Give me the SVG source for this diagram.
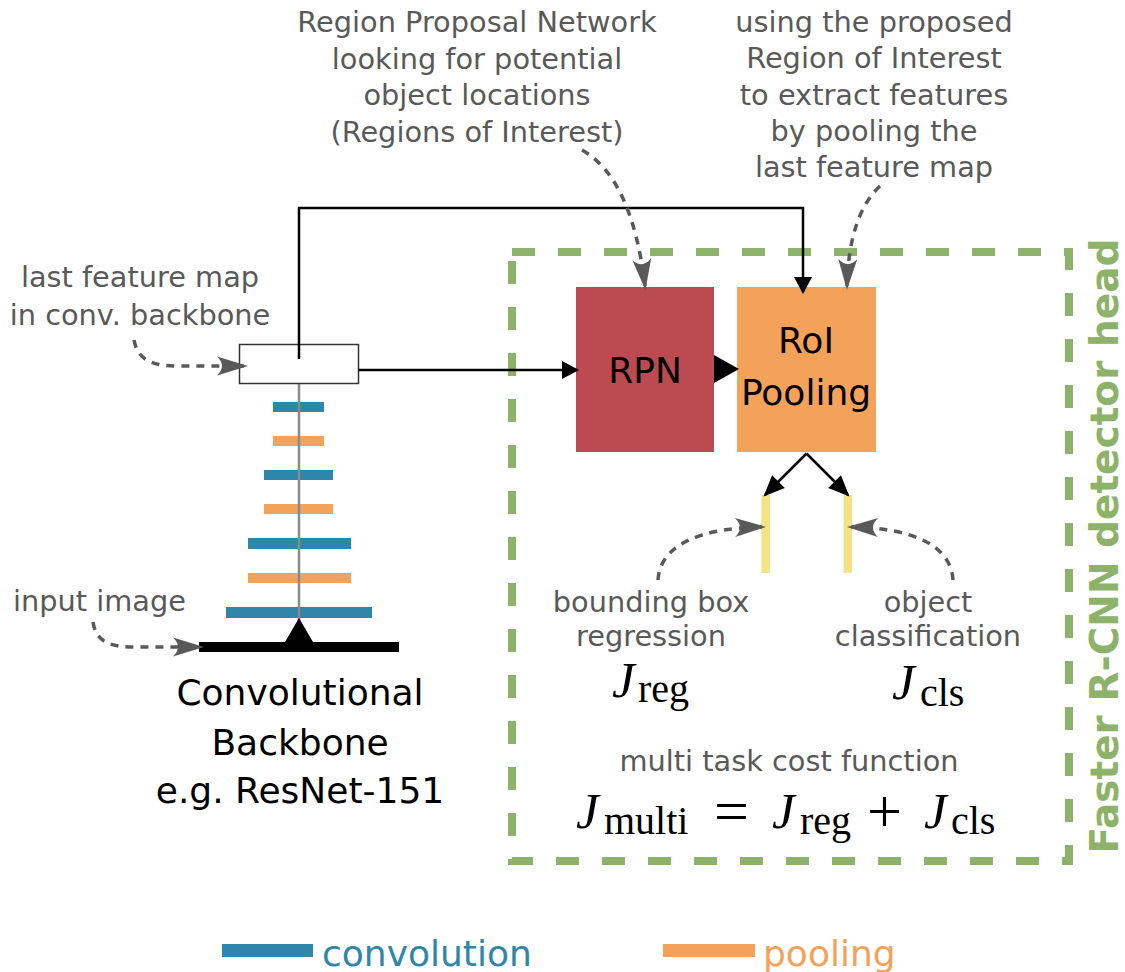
<svg xmlns="http://www.w3.org/2000/svg" width="1125" height="972" viewBox="0 0 1125 972">
  <style>
    .note { font-family: "DejaVu Sans", "Liberation Sans", sans-serif; font-size: 28.8px; fill: #595959; text-anchor: middle; }
    .label { font-family: "DejaVu Sans", "Liberation Sans", sans-serif; font-size: 36px; fill: #000; text-anchor: middle; }
    .mj { font-family: "Liberation Serif", serif; font-style: italic; font-size: 51px; fill: #000; }
    .ms { font-family: "Liberation Serif", serif; font-size: 40px; fill: #000; }
    .mo { font-family: "Liberation Serif", serif; font-size: 62px; fill: #000; }
    .conv { fill: #2e86ab; }
    .pool { fill: #f4a259; }
    .hint { fill: none; stroke: #595959; stroke-width: 3.5; stroke-dasharray: 8 7; marker-end: url(#grayHead); }
    .flow { fill: none; stroke: #000; stroke-width: 2.5; }
  </style>
  <defs>
    <marker id="grayHead" viewBox="-33 -11 34 22" refX="-4" refY="0" markerWidth="34" markerHeight="22" markerUnits="userSpaceOnUse" orient="auto">
      <path d="M0,0 L-31,-9.5 Q-21,0 -31,9.5 Z" fill="#595959"/>
    </marker>
    <marker id="blackHead" viewBox="-21 -10 22 20" refX="-2" refY="0" markerWidth="22" markerHeight="20" markerUnits="userSpaceOnUse" orient="auto">
      <path d="M0,0 L-17,-9 L-17,9 Z" fill="#000"/>
    </marker>
    <marker id="blackHeadLong" viewBox="-23 -11 24 22" refX="-2" refY="0" markerWidth="24" markerHeight="22" markerUnits="userSpaceOnUse" orient="auto">
      <path d="M0,0 L-21,-9 L-21,9 Z" fill="#000"/>
    </marker>
  </defs>

  <rect width="1125" height="972" fill="#fff"/>

  <!-- detector head frame -->
  <g id="detector-head">
    <rect x="512" y="252" width="557" height="609" fill="none" stroke="#8cb369" stroke-width="8" stroke-dasharray="23 23"/>
    <text transform="translate(1118,546) rotate(-90)" text-anchor="middle" font-family="DejaVu Sans, sans-serif" font-weight="bold" font-size="39" fill="#8cb369">Faster R-CNN detector head</text>
  </g>

  <!-- convolutional backbone -->
  <g id="backbone">
    <rect class="conv" x="273" y="402" width="51" height="10"/>
    <rect class="pool" x="273" y="436" width="51" height="10"/>
    <rect class="conv" x="264" y="470" width="69" height="10"/>
    <rect class="pool" x="264" y="504" width="69" height="10"/>
    <rect class="conv" x="248" y="538" width="103" height="11"/>
    <rect class="pool" x="248" y="573" width="103" height="10"/>
    <rect class="conv" x="226" y="607" width="146" height="11"/>
    <line x1="299" y1="383" x2="299" y2="642" stroke="#8a8a8a" stroke-width="2.5"/>
    <polygon points="299,618 285,642 313,642" fill="#000"/>
    <rect x="199" y="642" width="200" height="10" fill="#000"/>
    <text class="label" x="300" y="705">Convolutional</text>
    <text class="label" x="300" y="755">Backbone</text>
    <text class="label" x="300" y="803">e.g. ResNet-151</text>
  </g>

  <g id="feature-map">
    <rect x="239.5" y="344.5" width="119" height="39" fill="#fff" stroke="#333" stroke-width="1.5"/>
  </g>

  <g id="rpn">
    <rect x="576" y="287" width="138" height="165" fill="#bc4b51"/>
    <text class="label" x="645" y="383">RPN</text>
  </g>

  <g id="roi-pooling">
    <rect x="737" y="287" width="139" height="165" fill="#f4a259"/>
    <text class="label" x="806" y="353">RoI</text>
    <text class="label" x="806" y="405">Pooling</text>
  </g>

  <g id="bbox-output">
    <rect x="761.5" y="495" width="8.5" height="78" fill="#f4e285"/>
  </g>
  <g id="cls-output">
    <rect x="843.5" y="495" width="8.5" height="78" fill="#f4e285"/>
  </g>

  <!-- connectors -->
  <g id="connectors">
    <path class="flow" d="M358.5,370 H577" marker-end="url(#blackHead)"/>
    <path class="flow" d="M299,359 V208 H803 V292" marker-end="url(#blackHead)"/>
    <polygon points="714,355 739,369 714,383" fill="#000"/>
    <path class="flow" d="M806.5,453.5 L765,495" marker-end="url(#blackHeadLong)"/>
    <path class="flow" d="M806.5,453.5 L848,495" marker-end="url(#blackHeadLong)"/>

    <path class="hint" d="M582,150 Q632,178 645,286"/>
    <path class="hint" d="M880,186 Q849,215 847,286"/>
    <path class="hint" d="M134,340 C138,362 155,366 180,366 L244,366"/>
    <path class="hint" d="M93,622 C96,642 110,647 135,647 L200,647"/>
    <path class="hint" d="M658,580 C660,545 700,528 762,527"/>
    <path class="hint" d="M953,580 C951,545 912,528 851,527"/>
  </g>

  <!-- annotations -->
  <g id="notes">
    <text class="note" x="477" y="32">Region Proposal Network</text>
    <text class="note" x="477" y="69">looking for potential</text>
    <text class="note" x="477" y="105">object locations</text>
    <text class="note" x="477" y="142">(Regions of Interest)</text>

    <text class="note" x="874" y="32">using the proposed</text>
    <text class="note" x="874" y="68">Region of Interest</text>
    <text class="note" x="874" y="105">to extract features</text>
    <text class="note" x="874" y="141">by pooling the</text>
    <text class="note" x="874" y="177">last feature map</text>

    <text class="note" x="140" y="287">last feature map</text>
    <text class="note" x="140" y="325">in conv. backbone</text>
    <text class="note" x="13" y="611" style="text-anchor:start">input image</text>

    <text class="note" x="651" y="612">bounding box</text>
    <text class="note" x="651" y="646">regression</text>
    <text class="note" x="928" y="612">object</text>
    <text class="note" x="928" y="646">classification</text>
    <text class="note" x="789" y="771">multi task cost function</text>
  </g>

  <!-- loss terms -->
  <g id="loss-terms">
    <text class="mj" x="612" y="697">J</text>
    <text class="ms" x="638" y="702">reg</text>
    <text class="mj" x="892" y="699">J</text>
    <text class="ms" x="920" y="706">cls</text>

    <text class="mj" x="576" y="828">J</text>
    <text class="ms" x="604" y="834">multi</text>
    <text class="mo" x="714" y="832">=</text>
    <text class="mj" x="772" y="828">J</text>
    <text class="ms" x="800" y="834">reg</text>
    <text class="mo" x="867" y="832">+</text>
    <text class="mj" x="924" y="828">J</text>
    <text class="ms" x="951" y="834">cls</text>
  </g>

  <!-- legend -->
  <g id="legend">
    <rect class="conv" x="222" y="944" width="91" height="13"/>
    <text x="322" y="966" font-family="DejaVu Sans, sans-serif" font-size="36" fill="#2e86ab">convolution</text>
    <rect class="pool" x="663" y="944" width="92" height="13"/>
    <text x="763" y="966" font-family="DejaVu Sans, sans-serif" font-size="36" fill="#f4a259">pooling</text>
  </g>
</svg>
